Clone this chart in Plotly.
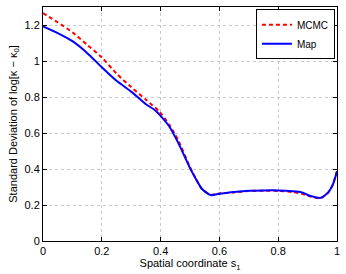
import plotly.graph_objects as go

s_map = [0, 0.05, 0.1, 0.15, 0.2, 0.25, 0.3, 0.35, 0.38, 0.4, 0.43, 0.46, 0.5, 0.52, 0.54, 0.57,
         0.6, 0.65, 0.7, 0.75, 0.8, 0.85, 0.88, 0.91, 0.945, 0.97, 0.985, 1.0]
map_sd = [1.192, 1.155, 1.11, 1.045, 0.965, 0.89, 0.83, 0.76, 0.728, 0.695, 0.635, 0.545, 0.405, 0.345,
          0.29, 0.255, 0.262, 0.272, 0.279, 0.281, 0.281, 0.276, 0.27, 0.25, 0.24, 0.27, 0.31, 0.387]

s_mcmc = [0, 0.05, 0.1, 0.15, 0.2, 0.25, 0.3, 0.35, 0.395, 0.43, 0.46, 0.5, 0.52, 0.54, 0.57,
          0.6, 0.65, 0.7, 0.75, 0.8, 0.85, 0.88, 0.91, 0.945, 0.97, 0.985, 1.0]
mcmc_sd = [1.266, 1.215, 1.16, 1.09, 1.02, 0.93, 0.855, 0.785, 0.72, 0.645, 0.56, 0.41, 0.345,
           0.29, 0.257, 0.264, 0.27, 0.278, 0.279, 0.278, 0.272, 0.263, 0.247, 0.238, 0.268, 0.31, 0.387]

x_ticks = [0, 0.2, 0.4, 0.6, 0.8, 1]
x_labels = ["0", "0.2", "0.4", "0.6", "0.8", "1"]
y_ticks = [0, 0.2, 0.4, 0.6, 0.8, 1, 1.2]
y_labels = ["0", "0.2", "0.4", "0.6", "0.8", "1", "1.2"]

font = "Liberation Sans, Arial, Helvetica, sans-serif"

fig = go.Figure()
fig.add_trace(go.Scatter(x=s_mcmc, y=mcmc_sd, mode="lines", name="MCMC",
                         line=dict(color="#ff0000", width=2, dash="4px,3px", shape="spline", smoothing=0.6)))
fig.add_trace(go.Scatter(x=s_map, y=map_sd, mode="lines", name="Map",
                         line=dict(color="#0000ff", width=2, shape="spline", smoothing=0.6)))

axis_common = dict(showline=True, linecolor="#000000", linewidth=1, mirror="ticks",
                   ticks="inside", ticklen=4, tickcolor="#000000",
                   showgrid=True, gridcolor="#c8c8c8", griddash="dot", gridwidth=1,
                   zeroline=False, tickfont=dict(family=font, size=11, color="#000000"))

fig.update_layout(
    width=346, height=274,
    margin=dict(l=43, r=6, t=7, b=33),
    paper_bgcolor="white", plot_bgcolor="white",
    font=dict(family=font, size=11, color="#000000"),
    showlegend=True,
    legend=dict(x=0.993, y=0.99, xanchor="right", yanchor="top",
                bgcolor="white", bordercolor="#000000", borderwidth=1,
                font=dict(family=font, size=10), tracegroupgap=0,
                itemwidth=30),
    xaxis=dict(range=[0, 1], tickvals=x_ticks, ticktext=x_labels,
               title=dict(text="Spatial coordinate s<sub>1</sub>", standoff=0,
                          font=dict(family=font, size=11)),
               **axis_common),
    yaxis=dict(range=[0, 1.3], tickvals=y_ticks, ticktext=y_labels,
               title=dict(text="Standard Deviation of log[κ − κ<sub>0</sub>]", standoff=4,
                          font=dict(family=font, size=11)),
               **axis_common),
)

fig.write_html("out.html", config={"displayModeBar": False},
               post_script="document.body.style.margin='0';document.body.style.padding='0';")
